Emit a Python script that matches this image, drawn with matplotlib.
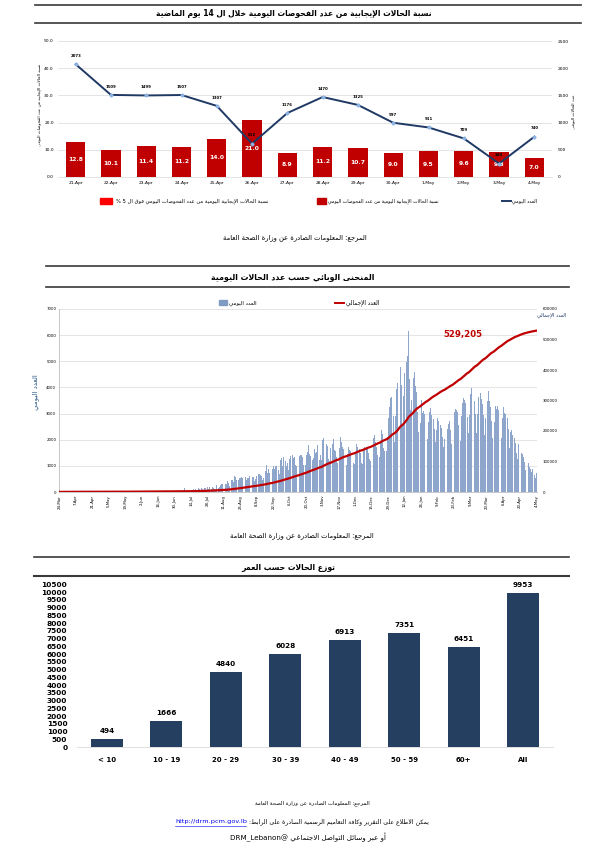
import re
import numpy as np
import pandas as pd
import matplotlib
matplotlib.use('Agg')
from matplotlib import pyplot as plt
from matplotlib.lines import Line2D
from matplotlib.patches import Rectangle

# ---------- data: positivity over the last 14 days ----------
days14 = ['21-Apr', '22-Apr', '23-Apr', '24-Apr', '25-Apr', '26-Apr', '27-Apr',
          '28-Apr', '29-Apr', '30-Apr', '1-May', '2-May', '3-May', '4-May']
positivity = [12.8, 10.1, 11.4, 11.2, 14.0, 21.0, 8.9,
              11.2, 10.7, 9.0, 9.5, 9.6, 9.3, 7.0]
daily14 = [2073, 1509, 1499, 1507, 1307, 612, 1176,
           1470, 1325, 997, 911, 709, 248, 740]

# ---------- data: epidemic curve, daily cases 24-Mar-2020 .. 4-May-2021 ----------
first_day = '2020-03-24'
cases_before = 341
total_label = '529,205'
cases_2020_mar = [29, 35, 35, 23, 21, 21, 26, 17]
cases_2020_apr = [16, 15, 14, 12, 19, 14, 7, 7, 5, 9, 10, 11, 1, 5, 8, 4, 4, 4, 5, 9,
                  0, 4, 0, 2, 1, 0, 3, 7, 4, 4]
cases_2020_may = [12, 4, 16, 13, 6, 9, 2, 34, 4, 9, 36, 16, 8, 13, 2, 12, 9, 38, 6, 9,
                  26, 8, 34, 5, 24, 11, 31, 6, 12, 4, 15]
cases_2020_jun = [14, 12, 13, 22, 14, 10, 14, 13, 11, 17, 11, 9, 17, 9, 19, 20, 14, 10,
                  39, 24, 21, 44, 20, 17, 23, 9, 15, 24, 18, 22]
cases_2020_jul = [42, 21, 31, 26, 22, 12, 35, 166, 17, 52, 66, 55, 40, 88, 77, 130, 76,
                  103, 60, 152, 120, 92, 135, 132, 145, 157, 62, 175, 107, 200, 123]
cases_2020_aug = [185, 160, 120, 100, 255, 145, 180, 279, 294, 309, 220, 309, 289, 439,
                  350, 240, 456, 456, 372, 605, 580, 471, 471, 532, 526, 591, 539, 687,
                  590, 453, 532]
cases_2020_sep = [544, 598, 498, 586, 566, 426, 509, 616, 684, 702, 651, 596, 475, 527,
                  807, 1027, 743, 880, 724, 553, 872, 1006, 876, 1004, 1009, 839, 670,
                  1228, 1300, 989]
cases_2020_oct = [1320, 1170, 1010, 1126, 840, 1280, 1377, 1397, 1306, 1350, 1025, 999,
                  1369, 1388, 1432, 1409, 1344, 1034, 1037, 1427, 1534, 1808, 1456, 1367,
                  1209, 1305, 1660, 1502, 1536, 1809, 1240]
cases_2020_nov = [1430, 1215, 1996, 2080, 2064, 1852, 1741, 1260, 1197, 1695, 1836, 2022,
                  1613, 1585, 1325, 1106, 1691, 2122, 1896, 1718, 1645, 1233, 1043, 1464,
                  1727, 1613, 1565, 1502, 1115, 1053]
cases_2020_dec = [1505, 1825, 1720, 1641, 1498, 1104, 1085, 1550, 1734, 1728, 1673, 1502,
                  1248, 1204, 1928, 2066, 2184, 1927, 1732, 1411, 1353, 1910, 2387, 2225,
                  1667, 1563, 1584, 2112, 2834, 3241, 3607]
cases_2021_jan = [3620, 2918, 1895, 2897, 3943, 4166, 5440, 4774, 4088, 2553, 3654, 4545,
                  4988, 5196, 6154, 4332, 3144, 3505, 4369, 4576, 4071, 3819, 3071, 2289,
                  2652, 3506, 3010, 3107, 2990, 2646, 2010]
cases_2021_feb = [2662, 3058, 3225, 2945, 2798, 2426, 1922, 2388, 2820, 2723, 2569, 2467,
                  2104, 1735, 2023, 2505, 2402, 2597, 2714, 2373, 1833, 2386, 3072, 3160,
                  3146, 3070, 2578, 1948]
cases_2021_mar = [2906, 3410, 3600, 3519, 3391, 2861, 2245, 2942, 3763, 3960, 3652, 3476,
                  3002, 2270, 2998, 3651, 3787, 3570, 3381, 2935, 2164, 2826, 3476, 3879,
                  3491, 3244, 2712, 2063, 2673, 3290, 3160]
cases_2021_apr = [3291, 3137, 2674, 2052, 2813, 3249, 3003, 2984, 2840, 2398, 1702, 2307,
                  2359, 2176, 2082, 1872, 1485, 1254, 1817, 1694, 1510, 1472, 1349, 1151,
                  826, 1176, 1106, 948, 891, 756]
cases_2021_may = [876, 669, 536, 740]

# ---------- data: cases by age ----------
age_groups = ['< 10', '10 - 19', '20 - 29', '30 - 39', '40 - 49', '50 - 59', '60+', 'All']
age_cases = [494, 1666, 4840, 6028, 6913, 7351, 6451, 9953]

# ---------- arabic shaping (no raqm in matplotlib) ----------
TWO_FORM = {'\u0622': 0xFE81, '\u0623': 0xFE83, '\u0624': 0xFE85, '\u0625': 0xFE87,
            '\u0627': 0xFE8D, '\u0629': 0xFE93, '\u062F': 0xFEA9, '\u0630': 0xFEAB,
            '\u0631': 0xFEAD, '\u0632': 0xFEAF, '\u0648': 0xFEED, '\u0649': 0xFEEF}
FOUR_FORM = {'\u0626': 0xFE89, '\u0628': 0xFE8F, '\u062A': 0xFE95, '\u062B': 0xFE99,
             '\u062C': 0xFE9D, '\u062D': 0xFEA1, '\u062E': 0xFEA5, '\u0633': 0xFEB1,
             '\u0634': 0xFEB5, '\u0635': 0xFEB9, '\u0636': 0xFEBD, '\u0637': 0xFEC1,
             '\u0638': 0xFEC5, '\u0639': 0xFEC9, '\u063A': 0xFECD, '\u0641': 0xFED1,
             '\u0642': 0xFED5, '\u0643': 0xFED9, '\u0644': 0xFEDD, '\u0645': 0xFEE1,
             '\u0646': 0xFEE5, '\u0647': 0xFEE9, '\u064A': 0xFEF1}
LAM_ALEF = {'\u0622': 0xFEF5, '\u0623': 0xFEF7, '\u0625': 0xFEF9, '\u0627': 0xFEFB}


def shape_arabic(s):
    units = []
    i = 0
    while i < len(s):
        if s[i] == '\u0644' and i + 1 < len(s) and s[i + 1] in LAM_ALEF:
            units.append(s[i:i + 2])
            i += 2
        else:
            units.append(s[i])
            i += 1

    def joins(u):
        return len(u) == 2 or u in TWO_FORM or u in FOUR_FORM

    out = []
    for k, u in enumerate(units):
        prev_ok = k > 0 and units[k - 1] in FOUR_FORM and joins(u)
        next_ok = k < len(units) - 1 and u in FOUR_FORM and joins(units[k + 1])
        if len(u) == 2:
            out.append(chr(LAM_ALEF[u[1]] + prev_ok))
        elif u in FOUR_FORM:
            off = 3 if prev_ok and next_ok else 1 if prev_ok else 2 if next_ok else 0
            out.append(chr(FOUR_FORM[u] + off))
        elif u in TWO_FORM:
            out.append(chr(TWO_FORM[u] + prev_ok))
        elif u == '\u0621':
            out.append('\uFE80')
        else:
            out.append(u)
    return ''.join(out)


def ar(s):
    rev = shape_arabic(s)[::-1]
    return re.sub(r'[A-Za-z0-9_.,/]+', lambda m: m.group(0)[::-1], rev)


plt.rcParams['font.family'] = ['DejaVu Sans']

W, H = 601, 850
fig = plt.figure(figsize=(W / 100, H / 100), dpi=100)
fig.patch.set_facecolor('white')
renderer = fig.canvas.get_renderer()


def fx(x):
    return x / W


def fy(y):
    return 1 - y / H


def put_text(x, y, s, width=None, size=6, ha='center', **kw):
    t = fig.text(fx(x), fy(y), s, fontsize=size, ha=ha, va='center', **kw)
    if width:
        w = t.get_window_extent(renderer).width
        t.set_fontsize(size * width / w)
    return t


def rule(y, x0, x1, lw=1.2):
    fig.add_artist(Line2D([fx(x0), fx(x1)], [fy(y), fy(y)], color='#3a3a3a', lw=lw))


SRC = 'المرجع: المعلومات الصادرة عن وزارة الصحة العامة'
GRID = '#D9D9D9'

# ================= chart 1 =================
rule(4.5, 35, 581)
rule(23, 35, 581)
put_text(294, 14, ar('نسبة الحالات الإيجابية من عدد الفحوصات اليومية خلال ال 14 يوم الماضية'),
         width=273, size=8, fontweight='bold')

ax1 = fig.add_axes([fx(58), fy(177), (552 - 58) / W, (177 - 41) / H])
x1 = np.arange(len(days14))
ax1.bar(x1, positivity, width=0.55, color='#C00000', zorder=2)
for xi, v in zip(x1, positivity):
    ax1.text(xi, v / 2, f'{v:.1f}', ha='center', va='center', color='white',
             fontsize=4.3, fontweight='bold', zorder=3)
ax1.set_xlim(-0.5, len(days14) - 0.5)
ax1.set_ylim(0, 50)
ax1.set_yticks(np.arange(0, 51, 10))
ax1.set_yticklabels([f'{v:.1f}' for v in np.arange(0, 51, 10)])
ax1.set_xticks(x1)
ax1.set_xticklabels(days14)
ax1.tick_params(axis='both', length=0, labelsize=3.2, pad=3)
ax1.grid(axis='y', color=GRID, lw=0.5, zorder=0)
ax1.set_axisbelow(True)
for sp in ax1.spines.values():
    sp.set_visible(False)
ax1.spines['bottom'].set_visible(True)
ax1.spines['bottom'].set_color(GRID)
ax1.spines['bottom'].set_linewidth(0.5)

ax1r = ax1.twinx()
ax1r.plot(x1, daily14, color='#1F3864', lw=1.4, marker='D', ms=1.6,
          mfc='#8DB3E2', mec='#8DB3E2', zorder=4)
for xi, v in zip(x1, daily14):
    ax1r.annotate(str(v), (xi, v), xytext=(0, 4.5), textcoords='offset points',
                  ha='center', va='bottom', fontsize=2.8, fontweight='bold')
ax1r.set_ylim(0, 2500)
ax1r.set_yticks(np.arange(0, 2501, 500))
ax1r.tick_params(axis='y', length=0, labelsize=3.2, pad=4)
for sp in ax1r.spines.values():
    sp.set_visible(False)

fig.text(fx(40), fy(105), ar('نسبة الحالات الإيجابية من عدد الفحوصات اليومي'),
         rotation=90, fontsize=3, ha='center', va='center')
fig.text(fx(573), fy(112), ar('عدد الحالات اليومي'), rotation=90, fontsize=3.2,
         ha='center', va='center')

# legend of chart 1
fig.add_artist(Rectangle((fx(100), fy(204)), 12 / W, 6 / H, color='#FF0000'))
put_text(116, 201, ar('نسبة الحالات الإيجابية اليومية من عدد الفحوصات اليومي فوق ال 5 %'),
         width=149, size=4, ha='left')
fig.add_artist(Rectangle((fx(317), fy(204)), 9 / W, 6 / H, color='#C00000'))
put_text(328, 201, ar('نسبة الحالات الإيجابية اليومية من عدد الفحوصات اليومي'),
         width=109, size=4, ha='left')
fig.add_artist(Line2D([fx(502), fx(511)], [fy(201), fy(201)], color='#1F3864', lw=1.4))
put_text(512, 201, ar('العدد اليومي'), width=25, size=4, ha='left')

put_text(295, 238, ar(SRC), width=144, size=5)

# ================= chart 2 =================
rule(266, 46, 569)
rule(287, 46, 569)
put_text(293, 277, ar('المنحنى الوبائي حسب عدد الحالات اليومية'), width=163, size=8,
         fontweight='bold')

daily_cases = (cases_2020_mar + cases_2020_apr + cases_2020_may + cases_2020_jun
               + cases_2020_jul + cases_2020_aug + cases_2020_sep + cases_2020_oct
               + cases_2020_nov + cases_2020_dec + cases_2021_jan + cases_2021_feb
               + cases_2021_mar + cases_2021_apr + cases_2021_may)
dates = pd.date_range(first_day, periods=len(daily_cases), freq='D')
cumulative = cases_before + np.cumsum(daily_cases)
x2 = np.arange(len(daily_cases))

ax2 = fig.add_axes([fx(59), fy(492), (537 - 59) / W, (492 - 309) / H])
ax2.bar(x2, daily_cases, width=0.8, color='#8EA6CC', linewidth=0, zorder=2)
ax2.set_xlim(-0.5, len(x2) - 0.5)
ax2.set_ylim(0, 7000)
ax2.set_yticks(np.arange(0, 7001, 1000))
tick_idx = x2[::14]
ax2.set_xticks(tick_idx)
ax2.set_xticklabels([f'{d.day}-{d.strftime("%b")}' for d in dates[tick_idx]],
                    rotation=90)
ax2.tick_params(axis='both', length=0, labelsize=2.8, pad=2)
ax2.grid(axis='y', color=GRID, lw=0.5, zorder=0)
ax2.set_axisbelow(True)
for sp in ['top', 'right']:
    ax2.spines[sp].set_visible(False)
for sp in ['left', 'bottom']:
    ax2.spines[sp].set_color('#BFBFBF')
    ax2.spines[sp].set_linewidth(0.6)

ax2r = ax2.twinx()
ax2r.plot(x2, cumulative, color='#C00000', lw=1.6, zorder=4)
ax2r.set_ylim(0, 600000)
ax2r.set_yticks(np.arange(0, 600001, 100000))
ax2r.tick_params(axis='y', length=0, labelsize=2.8, pad=4)
for sp in ax2r.spines.values():
    sp.set_visible(False)

put_text(463, 334, total_label, width=39, size=8, color='#C00000', fontweight='bold')
put_text(552, 315, ar('العدد الإجمالي'), size=3.6, color='#1F3864')
fig.text(fx(36), fy(392), ar('العدد اليومي'), rotation=90, fontsize=5,
         color='#2E5C8A', ha='center', va='center')

fig.add_artist(Rectangle((fx(219), fy(305)), 8 / W, 5 / H, color='#7F9BC4'))
put_text(229, 303, ar('العدد اليومي'), width=27, size=4, ha='left')
fig.add_artist(Line2D([fx(335), fx(344)], [fy(303), fy(303)], color='#C00000', lw=1.4))
put_text(346, 303, ar('العدد الإجمالي'), width=33, size=4, ha='left')

put_text(302, 536, ar(SRC), width=146, size=5)

# ================= chart 3 =================
rule(557, 34, 569)
rule(576, 34, 569, lw=1.5)
put_text(288, 567, ar('توزع الحالات حسب العمر'), width=93, size=7, fontweight='bold')

ax3 = fig.add_axes([fx(77), fy(747), (553 - 77) / W, (747 - 584.5) / H])
x3 = np.arange(len(age_groups))
ax3.bar(x3, age_cases, width=0.54, color='#243F60', zorder=2)
for xi, v in zip(x3, age_cases):
    ax3.annotate(str(v), (xi, v), xytext=(0, 3.5), textcoords='offset points',
                 ha='center', va='bottom', fontsize=5.2, fontweight='bold')
ax3.set_xlim(-0.5, len(age_groups) - 0.5)
ax3.set_ylim(0, 10500)
ax3.set_yticks(np.arange(0, 10501, 500))
ax3.set_xticks(x3)
ax3.set_xticklabels(age_groups)
ax3.tick_params(axis='y', length=0, labelsize=5.3, pad=7)
ax3.tick_params(axis='x', length=0, labelsize=5, pad=7)
for lab in ax3.get_yticklabels() + ax3.get_xticklabels():
    lab.set_fontweight('bold')
for sp in ax3.spines.values():
    sp.set_visible(False)
ax3.spines['bottom'].set_visible(True)
ax3.spines['bottom'].set_color(GRID)
ax3.spines['bottom'].set_linewidth(0.6)

# ================= footer =================
put_text(312, 803, ar(SRC), width=113, size=4)
put_text(429, 822, ar('يمكن الاطلاع على التقرير وكافة التعاميم الرسمية الصادرة على الرابط:'),
         width=179, size=4.5, ha='right')
put_text(175, 822, 'http://drm.pcm.gov.lb', width=71, size=4.5, ha='left', color='#0000EE')
fig.add_artist(Line2D([fx(175), fx(246)], [fy(826), fy(826)], color='#0000EE', lw=0.4))
put_text(308, 837, ar('أو عبر وسائل التواصل الاجتماعي @DRM_Lebanon'), width=157, size=4.5)

fig.savefig('out.png', dpi=100, facecolor='white')
